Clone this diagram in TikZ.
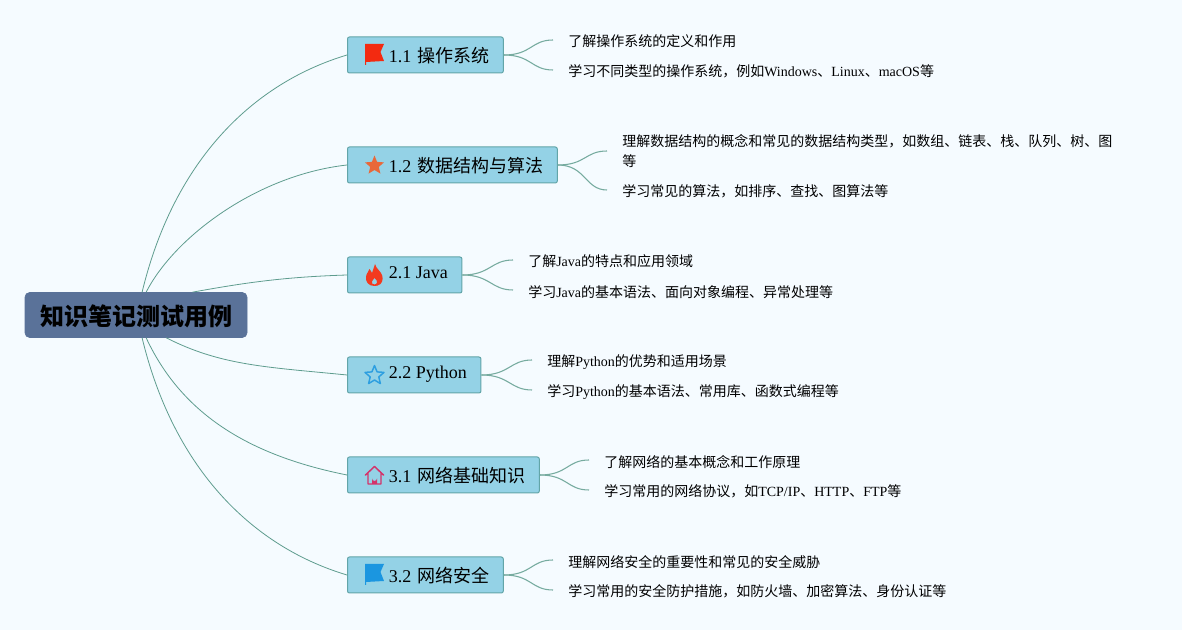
\documentclass[tikz,border=0pt]{standalone}
\usepackage{fontspec}
\setmainfont{Liberation Serif}
\newfontfamily\cjk{Noto Sans CJK SC}
\usetikzlibrary{positioning}

\definecolor{pagebg}{HTML}{F5FBFF}
\definecolor{rootfill}{HTML}{5A7299}
\definecolor{topicfill}{HTML}{94D2E6}
\definecolor{topicline}{HTML}{62A5A8}
\definecolor{branchline}{HTML}{5E9C8E}
\definecolor{flagred}{HTML}{F32A10}
\definecolor{flagblue}{HTML}{1B96E0}
\definecolor{staramber}{HTML}{E8683A}
\definecolor{flamered}{HTML}{F33A1F}
\definecolor{starblue}{HTML}{2E9FE0}
\definecolor{housepink}{HTML}{D4336A}

\tikzset{
  rootbox/.style={draw=rootfill, line width=0.5pt, fill=rootfill, rounded corners=3.5pt, minimum width=166.5pt, minimum height=33.75pt, inner sep=0pt, text height=18.5pt, text depth=2.5pt, font=\cjk\bfseries\fontsize{18}{22}\selectfont},
  topicbox/.style={anchor=west, draw=topicline, line width=0.75pt, fill=topicfill, rounded corners=1.5pt, minimum height=27pt, inner ysep=0pt, inner xsep=10.5pt, text height=14pt, text depth=2pt, font=\fontsize{13.5}{16}\selectfont},
  latinbox/.style={topicbox, text height=9pt, text depth=3pt},
  notebox/.style={anchor=west, align=left, inner xsep=11.25pt, inner ysep=2pt, font=\fontsize{10.5}{15}\selectfont, execute at begin node={\rule{0pt}{11.4pt}}},
  rootlink/.style={draw=branchline, line width=0.6pt},
  notelink/.style={draw=branchline!85, line width=0.8pt},
  flagpic/.pic={
    \path[pic actions] (-9,-11) -- (10,-11) -- (6.5,-3) -- (10,6) -- (-8,7) -- (-8,10) -- (-9,10) -- cycle;
  },
  starpic/.pic={
    \path[pic actions, line join=round] (0,-10) -- (2.6,-3.6) -- (9.5,-3.1) -- (4.3,1.4) -- (5.9,8.1) -- (0,4.5) -- (-5.9,8.1) -- (-4.3,1.4) -- (-9.5,-3.1) -- (-2.6,-3.6) -- cycle;
  },
  flamepic/.pic={
    \path[pic actions, even odd rule] (0,11) .. controls (-6,11) and (-9,7) .. (-8.5,2) .. controls (-8,-2) and (-6,-3) .. (-5,-6) .. controls (-3.5,-4) and (-3,-3) .. (-2.5,-2) .. controls (-1,-5) and (-1,-8) .. (0.5,-11) .. controls (2,-6) and (5,-5) .. (6.5,-2) .. controls (8.5,1) and (9,6) .. (6,9) .. controls (4.5,10.5) and (2,11) .. (0,11) -- cycle
      (0,9.5) .. controls (-2,9.5) and (-3.2,8) .. (-2.5,6.3) .. controls (-1.8,5) and (-0.5,4.5) .. (0,3) .. controls (1.2,4.2) and (3,5.5) .. (2.6,7.3) .. controls (2.3,8.7) and (1.2,9.5) .. (0,9.5) -- cycle;
  },
  housepic/.pic={
    \draw[pic actions, fill=none, line width=1.1pt, line join=round, line cap=round] (-9,0) -- (0,-8.5) -- (9,0) (-6.5,-1.5) -- (-6.5,9) -- (6.5,9) -- (6.5,-1.5);
    \fill[pic actions, draw=none] (-2.5,9) -- (-2.5,3.5) arc[start angle=180, end angle=0, radius=2.5] -- (2.5,9) -- cycle;
  },
}

\begin{document}
\begin{tikzpicture}[x=0.75pt, y=-0.75pt]

  \useasboundingbox (0,0) rectangle (1182,630);
  \fill[pagebg] (0,0) rectangle (1182,630);

  \node (root) [rootbox] at (136,315) {知识笔记测试用例};

  \node (os)  [topicbox] at (347,55)  {\hspace*{20.6pt}1.1 \hspace{1pt}{\cjk 操作系统}};
  \node (alg) [topicbox] at (347,165) {\hspace*{20.6pt}1.2 \hspace{1pt}{\cjk 数据结构与算法}};
  \node (jv)  [latinbox] at (347,275) {\hspace*{20.6pt}2.1 Java};
  \node (py)  [latinbox] at (347,375) {\hspace*{20.6pt}2.2 Python};
  \node (net) [topicbox] at (347,475) {\hspace*{20.6pt}3.1 \hspace{1pt}{\cjk 网络基础知识}};
  \node (sec) [topicbox] at (347,575) {\hspace*{20.6pt}3.2 \hspace{1pt}{\cjk 网络安全}};

  \pic[fill=flagred] at (374,55) {flagpic};
  \pic[fill=staramber] at (374.5,165.5) {starpic};
  \pic[fill=flamered] at (374.5,275) {flamepic};
  \pic[draw=starblue, line width=1.1pt] at (374.5,375.5) {starpic};
  \pic[draw=housepink, fill=housepink] at (374.5,475) {housepic};
  \pic[fill=flagblue] at (374,575) {flagpic};

  \node (os1)  [notebox] at (553,40)  {{\cjk 了解操作系统的定义和作用}};
  \node (os2)  [notebox] at (553,70)  {{\cjk 学习不同类型的操作系统，例如}Windows{\cjk 、}Linux{\cjk 、}macOS{\cjk 等}};
  \node (alg1) [notebox] at (607,151) {{\cjk 理解数据结构的概念和常见的数据结构类型，如数组、链表、栈、队列、树、图}\\{\cjk 等}};
  \node (alg2) [notebox] at (607,190) {{\cjk 学习常见的算法，如排序、查找、图算法等}};
  \node (jv1)  [notebox] at (513,260) {{\cjk 了解}Java{\cjk 的特点和应用领域}};
  \node (jv2)  [notebox] at (513,290) {{\cjk 学习}Java{\cjk 的基本语法、面向对象编程、异常处理等}};
  \node (py1)  [notebox] at (532,360) {{\cjk 理解}Python{\cjk 的优势和适用场景}};
  \node (py2)  [notebox] at (532,390) {{\cjk 学习}Python{\cjk 的基本语法、常用库、函数式编程等}};
  \node (net1) [notebox] at (589,460) {{\cjk 了解网络的基本概念和工作原理}};
  \node (net2) [notebox] at (589,490) {{\cjk 学习常用的网络协议，如}TCP/IP{\cjk 、}HTTP{\cjk 、}FTP{\cjk 等}};
  \node (sec1) [notebox] at (553,560) {{\cjk 理解网络安全的重要性和常见的安全威胁}};
  \node (sec2) [notebox] at (553,590) {{\cjk 学习常用的安全防护措施，如防火墙、加密算法、身份认证等}};

  % root to topics
  \draw[rootlink] (root.75)  .. controls +(30,-125) and +(-100,30) .. (os.west);
  \draw[rootlink] (root.66)  .. controls +(28,-55) and +(-90,10) .. (alg.west);
  \draw[rootlink] (root.22)  .. controls +(50,-9) and +(-65,2) .. (jv.west);
  \draw[rootlink] (root.-37) .. controls +(55,28) and +(-80,-8) .. (py.west);
  \draw[rootlink] (root.-66) .. controls +(35,75) and +(-100,-20) .. (net.west);
  \draw[rootlink] (root.-75) .. controls +(30,125) and +(-100,-30) .. (sec.west);

  % topics to notes
  \draw[notelink] (os.east)  .. controls +(28,0) and +(-22,0) .. (os1.west);
  \draw[notelink] (os.east)  .. controls +(28,0) and +(-22,0) .. (os2.west);
  \draw[notelink] (alg.east) .. controls +(28,0) and +(-22,0) .. (alg1.west);
  \draw[notelink] (alg.east) .. controls +(28,0) and +(-22,0) .. (alg2.west);
  \draw[notelink] (jv.east)  .. controls +(28,0) and +(-22,0) .. (jv1.west);
  \draw[notelink] (jv.east)  .. controls +(28,0) and +(-22,0) .. (jv2.west);
  \draw[notelink] (py.east)  .. controls +(28,0) and +(-22,0) .. (py1.west);
  \draw[notelink] (py.east)  .. controls +(28,0) and +(-22,0) .. (py2.west);
  \draw[notelink] (net.east) .. controls +(28,0) and +(-22,0) .. (net1.west);
  \draw[notelink] (net.east) .. controls +(28,0) and +(-22,0) .. (net2.west);
  \draw[notelink] (sec.east) .. controls +(28,0) and +(-22,0) .. (sec1.west);
  \draw[notelink] (sec.east) .. controls +(28,0) and +(-22,0) .. (sec2.west);

\end{tikzpicture}
\end{document}
